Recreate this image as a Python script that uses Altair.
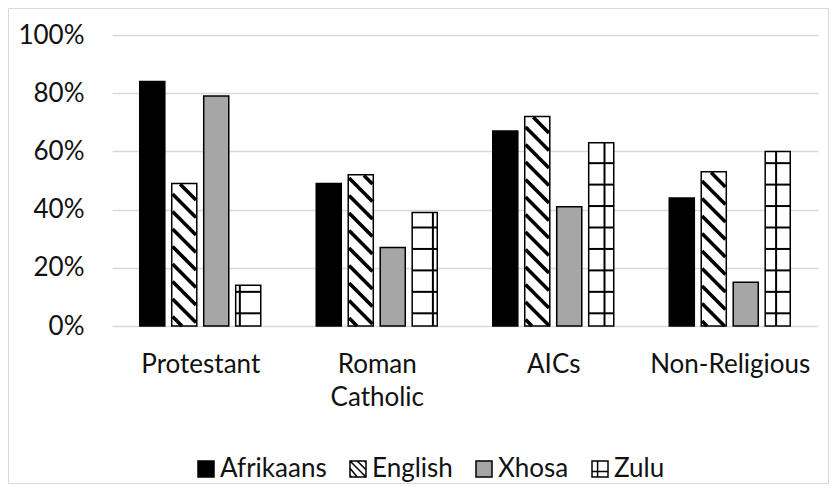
import math
import altair as alt
import pandas as pd

categories = ["Protestant", "Roman Catholic", "AICs", "Non-Religious"]
languages = ["Afrikaans", "English", "Xhosa", "Zulu"]
afrikaans = [84, 49, 67, 44]
english = [49, 52, 72, 53]
xhosa = [79, 27, 41, 15]
zulu = [14, 39, 63, 60]
series = {"Afrikaans": afrikaans, "English": english, "Xhosa": xhosa, "Zulu": zulu}
fill_colors = ["#000000", "#ffffff", "#a6a6a6", "#ffffff"]
legend_paths = [
    "M-1,-1H1V1H-1Z",
    "M-1,-1H1V1H-1Z M-1,-1L1,1 M-1,-0.1L-0.1,1 M-0.1,-1L1,0.1 M-1,0.8L-0.8,1 M0.8,-1L1,-0.8",
    "M-1,-1H1V1H-1Z",
    "M-1,-1H1V1H-1Z M-1,0.3H1 M-0.3,-1V1",
]

W, H = 706, 291
PX_X = W / 4.0
PX_Y = H / 100.0
PITCH = 0.1812
BARW = 0.142
FS = 26

rows = []
for ci, cat in enumerate(categories):
    for li, lang in enumerate(languages):
        v = series[lang][ci]
        c = ci + 0.5 + (li - 1.5) * PITCH
        rows.append(dict(category=cat, language=lang, value=v,
                         x0=c - BARW / 2, x1=c + BARW / 2, xc=c, mid=v / 2.0))
bars = pd.DataFrame(rows)

# diagonal hatch for English (pattern emulation)
P = 17.5
hatch = []
for r in bars[bars.language == "English"].itertuples():
    xl = r.x0 * PX_X + 0.8
    xr = r.x1 * PX_X - 0.8
    hh = r.value * PX_Y - 0.8
    for k in range(int(math.floor(xl / P)) - 1, int(math.ceil((xr + hh) / P)) + 2):
        c = k * P
        a = max(xl, c - hh)
        b = min(xr, c)
        if b - a > 0.6:
            hatch.append(dict(x=a / PX_X, y=(c - a) / PX_Y, x2=b / PX_X, y2=(c - b) / PX_Y))
hatch = pd.DataFrame(hatch)

# grid pattern for Zulu
G = 21.45
H0 = 12.7
VX0 = 20.6
grid = []
for r in bars[bars.language == "Zulu"].itertuples():
    xl = r.x0 * PX_X
    xr = r.x1 * PX_X
    hh = r.value * PX_Y
    h = H0
    while h < hh - 1.5:
        grid.append(dict(x=r.x0, x2=r.x1, y=h / PX_Y, y2=h / PX_Y))
        h += G
    for k in range(0, 40):
        vx = VX0 + G * k
        if xl + 1.5 < vx < xr - 1.5:
            grid.append(dict(x=vx / PX_X, x2=vx / PX_X, y=0.0, y2=r.value))
grid = pd.DataFrame(grid)

label_expr = ""
for i, c in enumerate(categories):
    words = c.split(" ")
    lab = "[" + ",".join("'%s'" % w for w in words) + "]" if len(words) > 1 else "'%s'" % c
    if i < len(categories) - 1:
        label_expr += "datum.value < %d ? %s : " % (i + 1, lab)
    else:
        label_expr += lab

xscale = alt.Scale(domain=[0, 4], nice=False, zero=False)
yscale = alt.Scale(domain=[0, 100], nice=False)
fill_scale = alt.Scale(domain=languages, range=fill_colors)
shape_scale = alt.Scale(domain=languages, range=legend_paths)

xaxis = alt.Axis(values=[0.5, 1.5, 2.5, 3.5], labelExpr=label_expr, domain=False,
                 ticks=False, grid=False, title=None, labelFontSize=FS,
                 labelColor="#111111", labelPadding=25, labelLineHeight=33,
                 labelOverlap=False, labelFlush=False, labelBound=False)
yaxis = alt.Axis(values=[0, 20, 40, 60, 80, 100], labelExpr="datum.value + '%'",
                 domain=False, ticks=False, title=None, labelFontSize=FS,
                 labelColor="#111111", labelPadding=28, gridColor="#d9d9d9",
                 gridWidth=1.5)

base = alt.Chart(bars)

legend_layer = base.mark_point(filled=True, opacity=1, size=30, stroke="black", strokeWidth=1.5).encode(
    x=alt.X("xc:Q", scale=xscale, axis=xaxis),
    y=alt.Y("mid:Q", scale=yscale, axis=yaxis),
    fill=alt.Fill("language:N", scale=fill_scale, sort=languages,
                  legend=alt.Legend(title=None, orient="none", direction="horizontal",
                                    legendX=81, legendY=421, symbolSize=256,
                                    symbolOpacity=1,
                                    symbolStrokeColor="black", symbolStrokeWidth=1.5,
                                    labelFontSize=FS, labelColor="#111111",
                                    labelOffset=1, columnPadding=18)),
    shape=alt.Shape("language:N", scale=shape_scale, sort=languages),
)

bar_fill = base.mark_rect().encode(
    x="x0:Q", x2="x1:Q",
    y="value:Q", y2=alt.datum(0),
    fill=alt.Fill("language:N", scale=fill_scale, legend=None),
)

hatch_layer = alt.Chart(hatch).mark_rule(color="black", strokeWidth=3.6, strokeCap="butt").encode(
    x="x:Q", x2="x2:Q", y="y:Q", y2="y2:Q")

grid_layer = alt.Chart(grid).mark_rule(color="black", strokeWidth=2, strokeCap="butt").encode(
    x="x:Q", x2="x2:Q", y="y:Q", y2="y2:Q")

bar_outline = base.mark_rect(fillOpacity=0, stroke="black", strokeWidth=1.5).encode(
    x="x0:Q", x2="x1:Q", y="value:Q", y2=alt.datum(0))

frame = alt.Chart(pd.DataFrame({"f": [0]})).mark_rect(
    fillOpacity=0, stroke="#d9d9d9", strokeWidth=1).encode(
    x=alt.value(-103.5), x2=alt.value(W + 10.5),
    y=alt.value(-26.5), y2=alt.value(H + 157.5))

chart = alt.layer(legend_layer, bar_fill, hatch_layer, grid_layer, bar_outline, frame).properties(
    width=W, height=H,
    padding={"left": 104, "top": 27, "right": 11, "bottom": 158},
    autosize=alt.AutoSizeParams(type="none"),
).configure(font="Lato").configure_view(stroke=None)

chart.save("out.html", embed_options={"renderer": "svg", "actions": False})
